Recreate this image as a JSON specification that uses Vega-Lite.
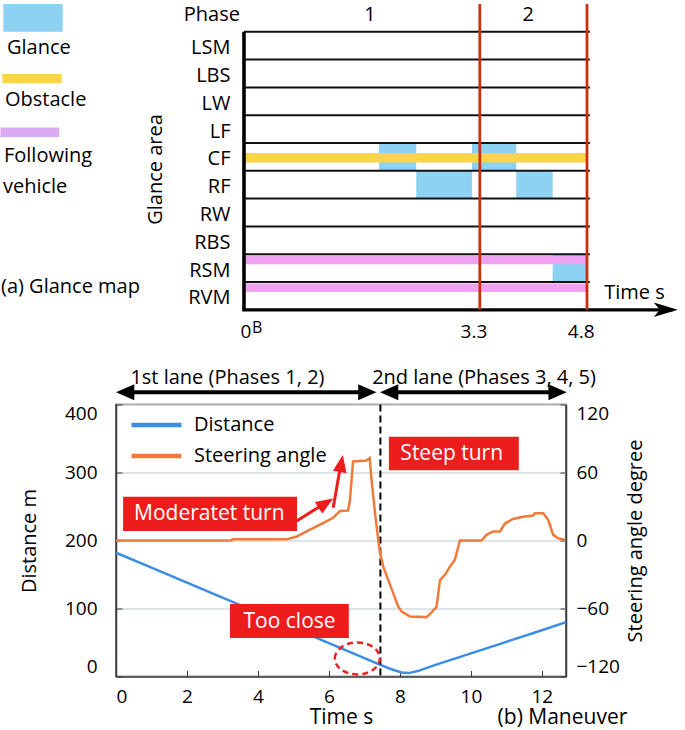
{
  "$schema": "https://vega.github.io/schema/vega-lite/v6.json",
  "padding": {"top": 2, "left": 0, "right": 0, "bottom": 0},
  "background": "white",
  "bounds": "flush",
  "spacing": 94.5,
  "config": {
    "font": "Open Sans",
    "view": {"stroke": null},
    "axis": {"labelColor": "#000000", "titleColor": "#000000", "labelFontSize": 19, "titleFontSize": 20, "titleFontWeight": "normal", "domainColor": "#3c3c3c", "tickColor": "#3c3c3c"}
  },
  "datasets": {
    "glance": [
      {"area": "CF", "start": 1.89, "end": 2.41},
      {"area": "RF", "start": 2.41, "end": 3.19},
      {"area": "CF", "start": 3.19, "end": 3.81},
      {"area": "RF", "start": 3.81, "end": 4.32},
      {"area": "RSM", "start": 4.32, "end": 4.8}
    ],
    "areas": [
      {"area": "LSM"}, {"area": "LBS"}, {"area": "LW"}, {"area": "LF"}, {"area": "CF"},
      {"area": "RF"}, {"area": "RW"}, {"area": "RBS"}, {"area": "RSM"}, {"area": "RVM"}
    ],
    "objects": [
      {"object": "Obstacle", "area": "CF", "start": 0, "end": 4.8},
      {"object": "Following vehicle", "area": "RSM", "start": 0, "end": 4.8},
      {"object": "Following vehicle", "area": "RVM", "start": 0, "end": 4.8}
    ],
    "phases": [
      {"phase": "1", "start": 0, "end": 3.3},
      {"phase": "2", "start": 3.3, "end": 4.8}
    ],
    "distance": [
      {"time": 0, "distance": 182}, {"time": 1, "distance": 160}, {"time": 2, "distance": 138},
      {"time": 3, "distance": 116}, {"time": 4, "distance": 94}, {"time": 5, "distance": 71},
      {"time": 6, "distance": 49}, {"time": 7, "distance": 27}, {"time": 7.45, "distance": 17},
      {"time": 7.8, "distance": 10}, {"time": 8.05, "distance": 6}, {"time": 8.25, "distance": 5},
      {"time": 8.5, "distance": 8}, {"time": 9, "distance": 17}, {"time": 10, "distance": 34},
      {"time": 11, "distance": 51}, {"time": 12, "distance": 68}, {"time": 12.68, "distance": 80}
    ],
    "steering": [
      {"time": 0, "angle": 0}, {"time": 3.26, "angle": 0}, {"time": 3.28, "angle": 1},
      {"time": 4.81, "angle": 1}, {"time": 5.09, "angle": 3.5}, {"time": 5.37, "angle": 8},
      {"time": 5.65, "angle": 12.4}, {"time": 5.94, "angle": 17}, {"time": 6.12, "angle": 20},
      {"time": 6.31, "angle": 26}, {"time": 6.54, "angle": 26.5}, {"time": 6.59, "angle": 35},
      {"time": 6.68, "angle": 69.7}, {"time": 7.06, "angle": 70.5}, {"time": 7.15, "angle": 72.7},
      {"time": 7.2, "angle": 53.6}, {"time": 7.3, "angle": 24}, {"time": 7.39, "angle": 0.6},
      {"time": 7.44, "angle": -11}, {"time": 7.53, "angle": -23}, {"time": 7.67, "angle": -34.7},
      {"time": 7.81, "angle": -46.4}, {"time": 7.95, "angle": -58.2}, {"time": 8.05, "angle": -62.6},
      {"time": 8.28, "angle": -67}, {"time": 8.75, "angle": -67.6}, {"time": 8.85, "angle": -64.7},
      {"time": 9.03, "angle": -58.8}, {"time": 9.13, "angle": -34.9}, {"time": 9.27, "angle": -30.3},
      {"time": 9.41, "angle": -23}, {"time": 9.55, "angle": -17}, {"time": 9.69, "angle": 0},
      {"time": 10.3, "angle": 0}, {"time": 10.44, "angle": 5}, {"time": 10.63, "angle": 8},
      {"time": 10.82, "angle": 8}, {"time": 10.96, "angle": 15}, {"time": 11.19, "angle": 19},
      {"time": 11.47, "angle": 21}, {"time": 11.75, "angle": 22}, {"time": 11.8, "angle": 24},
      {"time": 12.04, "angle": 24}, {"time": 12.18, "angle": 18}, {"time": 12.32, "angle": 5},
      {"time": 12.46, "angle": 2}, {"time": 12.65, "angle": 0.5}
    ]
  },
  "vconcat": [
    {
      "width": 471,
      "height": 305.8,
      "layer": [
        {
          "data": {"name": "glance"},
          "mark": {"type": "rect", "color": "#8dd1f3"},
          "encoding": {
            "x": {"field": "start", "type": "quantitative", "scale": {"domain": [-1.791, 4.8], "nice": false, "zero": false},
                  "axis": {"orient": "bottom", "values": [0, 3.3, 4.8], "labelExpr": "datum.value == 0 ? '0' : format(datum.value, '.1f')", "domain": false, "ticks": false, "grid": false, "labelAlign": "right", "labelOffset": 7, "labelPadding": 13, "labelFontSize": 19, "title": null}},
            "x2": {"field": "end"},
            "y": {"field": "area", "type": "nominal",
                  "scale": {"domain": ["Phase", "LSM", "LBS", "LW", "LF", "CF", "RF", "RW", "RBS", "RSM", "RVM"], "paddingInner": 0, "paddingOuter": 0},
                  "axis": {"orient": "left", "offset": -128, "domain": false, "ticks": false, "grid": false, "labelPadding": 14, "labelOffset": 2.5, "labelFontSize": 20, "labelExpr": "datum.value == 'Phase' ? '' : datum.label", "title": "Glance area", "titleFontSize": 20, "titlePadding": 22, "titleY": 165}}
          }
        },
        {
          "data": {"name": "objects"},
          "transform": [{"filter": "datum.object == 'Obstacle'"}],
          "mark": {"type": "rule", "color": "#f8d54a", "strokeWidth": 9.5},
          "encoding": {"x": {"field": "start", "type": "quantitative"}, "x2": {"field": "end"}, "y": {"field": "area", "type": "nominal", "bandPosition": 0.53}}
        },
        {
          "data": {"name": "objects"},
          "transform": [{"filter": "datum.object == 'Following vehicle'"}],
          "mark": {"type": "rule", "color": "#efa2f2", "strokeWidth": 8.5},
          "encoding": {"x": {"field": "start", "type": "quantitative"}, "x2": {"field": "end"}, "y": {"field": "area", "type": "nominal", "bandPosition": 0.21}}
        },
        {
          "data": {"name": "areas"},
          "mark": {"type": "rule", "color": "#111111", "strokeWidth": 2},
          "encoding": {"x": {"datum": 0, "type": "quantitative"}, "x2": {"datum": 4.84}, "y": {"field": "area", "type": "nominal", "bandPosition": 0}}
        },
        {
          "data": {"values": [{}]},
          "mark": {"type": "rule", "color": "#000000", "strokeWidth": 3.6},
          "encoding": {"x": {"datum": 0, "type": "quantitative"}, "y": {"datum": "LSM", "type": "nominal", "bandPosition": 0}, "y2": {"datum": "RVM", "bandPosition": 1}}
        },
        {
          "data": {"values": [{}]},
          "mark": {"type": "rule", "color": "#000000", "strokeWidth": 3.3},
          "encoding": {"x": {"datum": -0.025, "type": "quantitative"}, "x2": {"datum": 6.0}, "y": {"datum": "RVM", "type": "nominal", "bandPosition": 1}}
        },
        {
          "data": {"values": [{}]},
          "mark": {"type": "point", "shape": "M0,0L-2,-0.6L-1.5,0L-2,0.6Z", "size": 576, "filled": true, "opacity": 1, "color": "#000000"},
          "encoding": {"x": {"datum": 6.07, "type": "quantitative"}, "y": {"datum": "RVM", "type": "nominal", "bandPosition": 1}}
        },
        {
          "data": {"name": "phases"},
          "mark": {"type": "rule", "color": "#c9300f", "strokeWidth": 2.8},
          "encoding": {"x": {"field": "end", "type": "quantitative"}, "y": {"datum": "Phase", "type": "nominal", "bandPosition": 0}, "y2": {"datum": "RVM", "bandPosition": 1}}
        },
        {
          "data": {"values": [{}]},
          "mark": {"type": "rect", "color": "#8dd1f3"},
          "encoding": {"x": {"datum": -3.368, "type": "quantitative"}, "x2": {"datum": -2.537}, "y": {"datum": "Phase", "type": "nominal"}}
        },
        {
          "data": {"values": [{}]},
          "mark": {"type": "rect", "color": "#f8d54a"},
          "encoding": {"x": {"datum": -3.382, "type": "quantitative"}, "x2": {"datum": -2.551}, "y": {"datum": "LBS", "type": "nominal", "bandPosition": 0.52}, "y2": {"datum": "LBS", "bandPosition": 0.85}}
        },
        {
          "data": {"values": [{}]},
          "mark": {"type": "rect", "color": "#dcaaf0"},
          "encoding": {"x": {"datum": -3.408, "type": "quantitative"}, "x2": {"datum": -2.585}, "y": {"datum": "LF", "type": "nominal", "bandPosition": 0.44}, "y2": {"datum": "LF", "bandPosition": 0.78}}
        },
        {
          "data": {"values": [{}]},
          "mark": {"type": "text", "text": "Phase", "align": "right", "baseline": "middle", "fontSize": 20},
          "encoding": {"x": {"datum": -0.056, "type": "quantitative"}, "y": {"datum": "Phase", "type": "nominal", "bandPosition": 0.4}}
        },
        {
          "data": {"values": [{}]},
          "mark": {"type": "text", "text": "1", "align": "center", "baseline": "middle", "fontSize": 20},
          "encoding": {"x": {"datum": 1.763, "type": "quantitative"}, "y": {"datum": "Phase", "type": "nominal", "bandPosition": 0.4}}
        },
        {
          "data": {"values": [{}]},
          "mark": {"type": "text", "text": "2", "align": "center", "baseline": "middle", "fontSize": 20},
          "encoding": {"x": {"datum": 3.979, "type": "quantitative"}, "y": {"datum": "Phase", "type": "nominal", "bandPosition": 0.4}}
        },
        {
          "data": {"values": [{}]},
          "mark": {"type": "text", "text": "Glance", "align": "left", "baseline": "middle", "fontSize": 20},
          "encoding": {"x": {"datum": -3.317, "type": "quantitative"}, "y": {"datum": "LSM", "type": "nominal", "bandPosition": 0.59}}
        },
        {
          "data": {"values": [{}]},
          "mark": {"type": "text", "text": "Obstacle", "align": "left", "baseline": "middle", "fontSize": 20},
          "encoding": {"x": {"datum": -3.345, "type": "quantitative"}, "y": {"datum": "LW", "type": "nominal", "bandPosition": 0.47}}
        },
        {
          "data": {"values": [{}]},
          "mark": {"type": "text", "text": "Following", "align": "left", "baseline": "middle", "fontSize": 20},
          "encoding": {"x": {"datum": -3.359, "type": "quantitative"}, "y": {"datum": "CF", "type": "nominal", "bandPosition": 0.45}}
        },
        {
          "data": {"values": [{}]},
          "mark": {"type": "text", "text": "vehicle", "align": "left", "baseline": "middle", "fontSize": 20},
          "encoding": {"x": {"datum": -3.373, "type": "quantitative"}, "y": {"datum": "RF", "type": "nominal", "bandPosition": 0.59}}
        },
        {
          "data": {"values": [{}]},
          "mark": {"type": "text", "text": "(a) Glance map", "align": "left", "baseline": "middle", "fontSize": 20},
          "encoding": {"x": {"datum": -3.4, "type": "quantitative"}, "y": {"datum": "RVM", "type": "nominal", "bandPosition": 0.19}}
        },
        {
          "data": {"values": [{}]},
          "mark": {"type": "text", "text": "Time s", "align": "left", "baseline": "middle", "fontSize": 20},
          "encoding": {"x": {"datum": 5.042, "type": "quantitative"}, "y": {"datum": "RVM", "type": "nominal", "bandPosition": 0.38}}
        },
        {
          "data": {"values": [{}]},
          "mark": {"type": "text", "text": "B", "align": "left", "baseline": "alphabetic", "fontSize": 16},
          "encoding": {"x": {"datum": 0.112, "type": "quantitative"}, "y": {"datum": "RVM", "type": "nominal", "bandPosition": 1.827}}
        }
      ]
    },
    {
      "width": 450,
      "height": 272,
      "view": {"stroke": "#3c3c3c", "strokeWidth": 1.5},
      "resolve": {"scale": {"y": "independent"}},
      "layer": [
        {
          "layer": [
            {
              "data": {"name": "distance"},
              "mark": {"type": "line", "strokeWidth": 2.5},
              "encoding": {
                "x": {"field": "time", "type": "quantitative", "scale": {"domain": [0, 12.68], "nice": false, "zero": false},
                      "axis": {"values": [0, 2, 4, 6, 8, 10, 12], "grid": false, "tickSize": -6, "labelPadding": 17, "domainWidth": 1.5, "title": "Time s", "titlePadding": 0, "titleFontSize": 21}},
                "y": {"field": "distance", "type": "quantitative", "scale": {"domain": [0, 400], "nice": false, "zero": false},
                      "axis": {"orient": "left", "values": [0, 100, 200, 300, 400], "grid": true, "gridColor": "#d3dde3", "gridWidth": 1.5, "tickSize": -6, "labelPadding": 25, "labelFlush": true, "domainWidth": 1.5, "title": "Distance m", "titlePadding": 25}},
                "color": {"datum": "Distance", "type": "nominal",
                          "scale": {"domain": ["Distance", "Steering angle"], "range": ["#3a8de6", "#f07a3a"]},
                          "legend": {"orient": "none", "legendX": 28, "legendY": 408.5, "title": null, "symbolType": "M-2.5,0L2.5,0", "symbolSize": 400, "symbolStrokeWidth": 4.5, "labelFontSize": 20, "labelColor": "#000000", "labelOffset": 25, "rowPadding": 8, "padding": 0}}
              }
            },
            {
              "data": {"values": [{}]},
              "mark": {"type": "rule", "color": "#000000", "strokeWidth": 2, "strokeDash": [7, 4]},
              "encoding": {"x": {"datum": 7.45, "type": "quantitative"}}
            },
            {
              "data": {"values": [{}]},
              "mark": {"type": "rect", "color": "#ee1d1d"},
              "encoding": {"x": {"datum": 7.69, "type": "quantitative"}, "x2": {"datum": 11.35}, "y": {"datum": 303.2, "type": "quantitative"}, "y2": {"datum": 352.6}}
            },
            {
              "data": {"values": [{}]},
              "mark": {"type": "rect", "color": "#ee1d1d"},
              "encoding": {"x": {"datum": 0.2, "type": "quantitative"}, "x2": {"datum": 5.1}, "y": {"datum": 214, "type": "quantitative"}, "y2": {"datum": 264.4}}
            },
            {
              "data": {"values": [{}]},
              "mark": {"type": "rect", "color": "#ee1d1d"},
              "encoding": {"x": {"datum": 3.21, "type": "quantitative"}, "x2": {"datum": 6.56}, "y": {"datum": 56.6, "type": "quantitative"}, "y2": {"datum": 106.6}}
            },
            {
              "data": {"values": [{}]},
              "mark": {"type": "text", "text": "Steep turn", "color": "#ffffff", "align": "center", "baseline": "middle", "fontSize": 21},
              "encoding": {"x": {"datum": 9.46, "type": "quantitative"}, "y": {"datum": 327.6, "type": "quantitative"}}
            },
            {
              "data": {"values": [{}]},
              "mark": {"type": "text", "text": "Moderatet turn", "color": "#ffffff", "align": "center", "baseline": "middle", "fontSize": 21},
              "encoding": {"x": {"datum": 2.63, "type": "quantitative"}, "y": {"datum": 239.4, "type": "quantitative"}}
            },
            {
              "data": {"values": [{}]},
              "mark": {"type": "text", "text": "Too close", "color": "#ffffff", "align": "center", "baseline": "middle", "fontSize": 21},
              "encoding": {"x": {"datum": 4.89, "type": "quantitative"}, "y": {"datum": 80.1, "type": "quantitative"}}
            },
            {
              "data": {"values": [{}]},
              "mark": {"type": "rule", "color": "#ee1d1d", "strokeWidth": 3},
              "encoding": {"x": {"datum": 5.09, "type": "quantitative"}, "x2": {"datum": 5.74}, "y": {"datum": 228.7, "type": "quantitative"}, "y2": {"datum": 250}}
            },
            {
              "data": {"values": [{}]},
              "mark": {"type": "rule", "color": "#ee1d1d", "strokeWidth": 3},
              "encoding": {"x": {"datum": 6.12, "type": "quantitative"}, "x2": {"datum": 6.3}, "y": {"datum": 248.2, "type": "quantitative"}, "y2": {"datum": 302}}
            },
            {
              "data": {"values": [{}]},
              "mark": {"type": "point", "shape": "M0,0L0.8,2L-0.8,2Z", "size": 300, "angle": 57.6, "filled": true, "opacity": 1, "color": "#ee1d1d"},
              "encoding": {"x": {"datum": 6.12, "type": "quantitative"}, "y": {"datum": 261.8, "type": "quantitative"}}
            },
            {
              "data": {"values": [{}]},
              "mark": {"type": "point", "shape": "M0,0L0.8,2L-0.8,2Z", "size": 300, "angle": 10.1, "filled": true, "opacity": 1, "color": "#ee1d1d"},
              "encoding": {"x": {"datum": 6.39, "type": "quantitative"}, "y": {"datum": 325.7, "type": "quantitative"}}
            },
            {
              "data": {"values": [{}]},
              "mark": {"type": "point", "shape": "M-1,0A1,0.71,0,1,1,1,0A1,0.71,0,1,1,-1,0Z", "size": 2025, "filled": false, "opacity": 1, "color": "#ee2222", "strokeWidth": 2.5, "strokeDash": [6, 4]},
              "encoding": {"x": {"datum": 6.8, "type": "quantitative"}, "y": {"datum": 26.5, "type": "quantitative"}}
            },
            {
              "data": {"values": [{}]},
              "mark": {"type": "rule", "color": "#000000", "strokeWidth": 3.8},
              "encoding": {"x": {"datum": 0.28, "type": "quantitative"}, "x2": {"datum": 7.06}, "y": {"datum": 418, "type": "quantitative"}}
            },
            {
              "data": {"values": [{}]},
              "mark": {"type": "rule", "color": "#000000", "strokeWidth": 3.8},
              "encoding": {"x": {"datum": 7.72, "type": "quantitative"}, "x2": {"datum": 12.42}, "y": {"datum": 418, "type": "quantitative"}}
            },
            {
              "data": {"values": [{}]},
              "mark": {"type": "point", "shape": "M0,0L2,-0.875L2,0.875Z", "size": 335, "filled": true, "opacity": 1, "color": "#000000"},
              "encoding": {"x": {"datum": 0, "type": "quantitative"}, "y": {"datum": 418, "type": "quantitative"}}
            },
            {
              "data": {"values": [{}]},
              "mark": {"type": "point", "shape": "M0,0L-2,-0.875L-2,0.875Z", "size": 335, "filled": true, "opacity": 1, "color": "#000000"},
              "encoding": {"x": {"datum": 7.34, "type": "quantitative"}, "y": {"datum": 418, "type": "quantitative"}}
            },
            {
              "data": {"values": [{}]},
              "mark": {"type": "point", "shape": "M0,0L2,-0.875L2,0.875Z", "size": 335, "filled": true, "opacity": 1, "color": "#000000"},
              "encoding": {"x": {"datum": 7.44, "type": "quantitative"}, "y": {"datum": 418, "type": "quantitative"}}
            },
            {
              "data": {"values": [{}]},
              "mark": {"type": "point", "shape": "M0,0L-2,-0.875L-2,0.875Z", "size": 335, "filled": true, "opacity": 1, "color": "#000000"},
              "encoding": {"x": {"datum": 12.7, "type": "quantitative"}, "y": {"datum": 418, "type": "quantitative"}}
            },
            {
              "data": {"values": [{}]},
              "mark": {"type": "text", "text": "1st lane (Phases 1, 2)", "align": "center", "baseline": "middle", "fontSize": 20},
              "encoding": {"x": {"datum": 3.14, "type": "quantitative"}, "y": {"datum": 439.7, "type": "quantitative"}}
            },
            {
              "data": {"values": [{}]},
              "mark": {"type": "text", "text": "2nd lane (Phases 3, 4, 5)", "align": "center", "baseline": "middle", "fontSize": 20},
              "encoding": {"x": {"datum": 10.37, "type": "quantitative"}, "y": {"datum": 439.7, "type": "quantitative"}}
            },
            {
              "data": {"values": [{}]},
              "mark": {"type": "text", "text": "(b) Maneuver", "align": "center", "baseline": "middle", "fontSize": 21},
              "encoding": {"x": {"datum": 12.58, "type": "quantitative"}, "y": {"datum": -61.5, "type": "quantitative"}}
            }
          ]
        },
        {
          "layer": [
            {
              "data": {"name": "steering"},
              "mark": {"type": "line", "strokeWidth": 2.5},
              "encoding": {
                "x": {"field": "time", "type": "quantitative"},
                "y": {"field": "angle", "type": "quantitative", "scale": {"domain": [-120, 120], "nice": false, "zero": false},
                      "axis": {"orient": "right", "values": [-120, -60, 0, 60, 120], "grid": false, "tickSize": -6, "labelPadding": 16, "labelFlush": true, "domainWidth": 1.5, "title": "Steering angle degree", "titleAngle": -90, "titleBaseline": "top", "titlePadding": 6}},
                "color": {"datum": "Steering angle", "type": "nominal"}
              }
            }
          ]
        }
      ]
    }
  ]
}
